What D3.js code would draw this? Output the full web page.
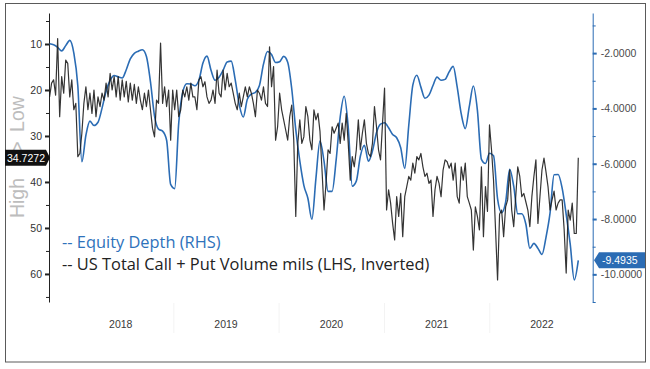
<!DOCTYPE html>
<html>
<head>
<meta charset="utf-8">
<script src="https://cdn.jsdelivr.net/npm/d3@7"></script>
<style>
  body { margin: 0; background: #ffffff; }
  svg { display: block; }
  .tickText { font-family: "Liberation Sans", Arial, sans-serif; font-size: 10.5px; }
</style>
</head>
<body>
<div id="chart"></div>
<script>
// US total call + put volume (mils), LHS inverted, one value per week
let volumeStart = "2017-10-27";
let volumeValues = [
  21.5, 18.5, 17.8, 21.1, 8.8, 25.8, 17.1, 20.7, 13.5, 14.2, 21.5, 17.8, 24.3, 22.9, 34.5, 33.8, 29.4,
  22.9, 19.3, 24.3, 20.7, 25.1, 20.0, 25.8, 21.5, 23.6, 20.7, 22.2, 18.5, 21.5, 16.4, 20.0, 17.1, 21.5,
  17.1, 22.2, 17.8, 21.5, 18.1, 22.6, 18.5, 22.2, 18.8, 22.9, 19.3, 22.2, 24.3, 20.7, 23.6, 20.0, 24.3,
  28.3, 30.2, 22.2, 22.9, 9.8, 22.9, 19.3, 23.6, 20.0, 30.9, 20.0, 24.3, 20.0, 25.8, 24.3,
  20.0, 21.5, 19.3, 22.2, 18.5, 21.5, 21.5, 24.3, 17.8, 17.1, 19.3, 18.2, 21.5, 22.9, 22.2, 20.0, 22.9, 15.7,
  20.7, 21.5, 15.7, 20.0, 16.4,
  19.3, 18.5, 20.7, 22.9, 24.3, 20.7, 23.6, 21.5, 19.3, 21.5, 19.3, 20.7, 22.9, 25.8, 20.0, 20.7, 22.2, 19.3, 22.9, 23.6,
  10.6, 19.3, 14.9, 30.9, 28.0, 20.7, 24.3, 26.5, 28.7, 30.9, 25.8, 23.3, 30.9, 47.5, 31.6, 26.5, 31.6, 30.2, 23.6, 25.8, 30.9, 33.0,
  24.3, 26.5, 25.1, 29.0, 37.4, 46.1, 40.3, 33.0, 33.8, 28.0, 29.4, 28.3, 27.2,
  31.6, 27.2, 30.9, 25.1, 31.6, 39.6, 34.5, 36.7, 33.0, 26.5, 33.0, 29.4, 26.5, 31.6, 33.8, 34.5, 31.6, 23.6, 28.0, 33.0, 35.2, 27.2, 19.6,
  46.1, 41.7, 44.6, 49.0, 52.6, 43.2, 47.5, 42.5, 51.9, 43.2, 41.0, 38.8, 39.6, 35.9, 38.1, 34.5, 35.2, 33.8, 36.7, 38.8, 38.1, 40.3,
  39.6, 47.5, 41.7, 38.8, 40.3, 43.2, 37.4, 35.2, 35.6, 37.0,
  35.9, 39.6, 35.9, 43.2, 44.6, 36.7, 39.6, 35.9, 43.2, 44.6, 46.1, 54.8, 45.4, 47.5, 50.4, 36.7, 51.9, 41.0, 46.4, 27.6, 33.0, 39.6, 50.4, 61.3,
  47.0, 46.1, 51.9, 45.4, 43.9, 37.4, 46.1, 49.7, 43.2, 36.7, 38.8, 43.2, 42.5, 44.3, 46.1, 49.7, 43.2, 38.8, 35.2, 49.0,
  43.2, 37.4, 34.8, 37.8, 41.0, 46.1, 43.9, 42.0, 46.1, 44.6, 43.9, 43.9, 50.4, 59.8, 46.1, 48.3, 44.6, 51.2, 51.2, 34.7272
];

// equity depth, RHS, one value every two weeks
let depthStart = "2017-10-27";
let depthValues = [
  -1.66, -1.70, -1.79, -1.92, -1.73, -1.54, -1.99, -3.19, -5.93, -4.97,
  -4.46, -4.62, -4.50, -3.99, -3.38, -2.99, -2.81, -2.86, -2.90, -2.60,
  -2.21, -2.01, -1.93, -1.88, -2.12, -3.04, -4.27, -4.75, -4.82, -5.15,
  -6.75, -6.90, -4.53, -3.41, -3.11, -3.12, -3.18, -2.98, -2.36, -2.11,
  -2.62, -2.98, -2.87, -2.62, -2.32, -2.29, -2.97, -3.87, -4.31, -3.67,
  -3.48, -3.42, -3.17, -2.40, -1.94, -2.05, -2.34, -2.31, -2.12, -2.33,
  -3.29, -4.77, -5.90, -6.78, -7.25, -8.01, -6.52, -5.18, -5.91, -7.00,
  -7.00, -5.87, -4.32, -3.56, -4.68, -6.81, -6.63, -5.73, -5.33, -5.91,
  -5.54, -4.88, -4.57, -4.52, -4.70, -4.94, -5.06, -5.42, -6.17, -4.61,
  -3.16, -2.80, -3.23, -3.63, -3.52, -3.17, -2.87, -2.98, -2.95, -2.68,
  -2.48, -3.23, -4.20, -4.73, -3.93, -3.19, -4.06, -5.84, -5.99, -5.62,
  -5.71, -7.27, -7.77, -7.39, -6.20, -6.81, -7.81, -7.81, -8.18, -9.06,
  -8.88, -9.06, -9.28, -8.66, -7.79, -6.40, -6.39, -6.88, -7.83, -8.91,
  -10.20, -9.4935
];

let yearLabels = ["2018", "2019", "2020", "2021", "2022"];
let leftTicks = [10, 20, 30, 40, 50, 60];
let leftMinorTicks = [5, 15, 25, 35, 45, 55, 65];
let rightTicks = [-2, -4, -6, -8, -10];
let rightMinorTicks = [-1, -3, -5, -7, -9, -11];
let legendLabels = [
  "-- Equity Depth (RHS)",
  "-- US Total Call + Put Volume mils (LHS, Inverted)",
];

let blue = "#2b6cb4";
let black = "#1e1e1e";

// size of the picture and of the plot area
let width = 650, height = 369;
let plot = { left: 49, right: 592.7, top: 13, bottom: 302 };
let svg, x, yLeft, yRight;

function init() {
  svg = d3
    .select("#chart")
    .append("svg")
    .attr("width", width)
    .attr("height", height);

  let parse = d3.timeParse("%Y-%m-%d");
  let volume = volumeValues.map(function (v, i) {
    return { date: d3.timeDay.offset(parse(volumeStart), 7 * i), value: v };
  });
  let depth = depthValues.map(function (v, i) {
    return { date: d3.timeDay.offset(parse(depthStart), 14 * i), value: v };
  });

  x = d3
    .scaleTime()
    .domain([new Date(2017, 9, 25), new Date(2022, 11, 24)])
    .range([plot.left, plot.right]);
  // left axis is inverted: small volumes on top
  yLeft = d3.scaleLinear().domain([3.26, 66.1]).range([plot.top, plot.bottom]);
  yRight = d3.scaleLinear().domain([-0.55, -11.0]).range([plot.top, plot.bottom]);

  renderFrame();
  renderAxes();
  renderLines(volume, depth);
  renderLegend();
  renderTags(volume, depth);
}

function renderFrame() {
  svg
    .append("rect")
    .attr("x", 5.5)
    .attr("y", 3.5)
    .attr("width", 640)
    .attr("height", 358.5)
    .attr("fill", "none")
    .attr("stroke", "#5a5a5a")
    .attr("stroke-width", 1);

  // faint separators between the years
  svg
    .append("g")
    .selectAll("line")
    .data(yearLabels.slice(1))
    .enter()
    .append("line")
    .attr("x1", function (d) { return x(new Date(+d, 0, 1)); })
    .attr("x2", function (d) { return x(new Date(+d, 0, 1)); })
    .attr("y1", 303)
    .attr("y2", 333)
    .attr("stroke", "#f3f3f3");

  svg
    .append("g")
    .selectAll("text")
    .data(yearLabels)
    .enter()
    .append("text")
    .attr("class", "tickText")
    .attr("x", function (d) { return x(new Date(+d, 6, 1)); })
    .attr("y", 328)
    .attr("text-anchor", "middle")
    .attr("fill", "#3a3a3a")
    .text(function (d) { return d; });

  // "High > Low" hint for the inverted left axis
  let hint = [
    { text: "Low", y: 114 },
    { text: ">", y: 147 },
    { text: "High", y: 198 },
  ];
  svg
    .append("g")
    .selectAll("text")
    .data(hint)
    .enter()
    .append("text")
    .attr("transform", function (d) { return "translate(24," + d.y + ") rotate(-90)"; })
    .attr("text-anchor", "middle")
    .attr("font-family", "Liberation Sans, Arial, sans-serif")
    .attr("font-size", "19.5px")
    .attr("fill", "#bdbdbd")
    .text(function (d) { return d.text; });
}

function renderAxes() {
  // left axis
  let left = svg.append("g").attr("transform", "translate(" + plot.left + ",0)");
  left
    .call(d3.axisLeft(yLeft).tickValues(leftTicks).tickSize(4).tickSizeOuter(0))
    .call(function (g) {
      g.select(".domain").attr("stroke", "#222");
      g.selectAll(".tick line").attr("stroke", "#222").attr("stroke-width", 2);
      g.selectAll(".tick text")
        .attr("class", "tickText")
        .attr("fill", "#333")
        .attr("x", -7);
    });
  left
    .append("g")
    .call(d3.axisLeft(yLeft).tickValues(leftMinorTicks).tickSize(3).tickSizeOuter(0).tickFormat(""))
    .call(function (g) {
      g.select(".domain").remove();
      g.selectAll(".tick line").attr("stroke", "#222");
    });

  // right axis
  let right = svg.append("g").attr("transform", "translate(" + plot.right + ",0)");
  right
    .call(
      d3.axisRight(yRight)
        .tickValues(rightTicks)
        .tickSize(4)
        .tickSizeOuter(0)
        .tickFormat(function (d) { return d.toFixed(4); })
    )
    .call(function (g) {
      g.select(".domain").attr("stroke", blue);
      g.selectAll(".tick line").attr("stroke", blue).attr("stroke-width", 2);
      g.selectAll(".tick text")
        .attr("class", "tickText")
        .attr("fill", "#4a4a4a")
        .attr("x", 8);
    });
  right
    .append("g")
    .call(d3.axisRight(yRight).tickValues(rightMinorTicks).tickSize(3).tickSizeOuter(0).tickFormat(""))
    .call(function (g) {
      g.select(".domain").remove();
      g.selectAll(".tick line").attr("stroke", blue);
    });
}

function renderLines(volume, depth) {
  let depthLine = d3
    .line()
    .x(function (d) { return x(d.date); })
    .y(function (d) { return yRight(d.value); })
    .curve(d3.curveMonotoneX);
  let volumeLine = d3
    .line()
    .x(function (d) { return x(d.date); })
    .y(function (d) { return yLeft(d.value); });

  svg
    .append("path")
    .datum(depth)
    .attr("d", depthLine)
    .attr("fill", "none")
    .attr("stroke", blue)
    .attr("stroke-width", 1.6)
    .attr("stroke-linejoin", "round");

  svg
    .append("path")
    .datum(volume)
    .attr("d", volumeLine)
    .attr("fill", "none")
    .attr("stroke", black)
    .attr("stroke-width", 1.2)
    .attr("stroke-opacity", 0.9)
    .attr("stroke-linejoin", "round");
}

function renderLegend() {
  svg
    .append("g")
    .selectAll("text")
    .data(legendLabels)
    .enter()
    .append("text")
    .attr("x", 62)
    .attr("y", function (d, i) { return 247.5 + i * 22.6; })
    .attr("font-family", "Open Sans, sans-serif")
    .attr("font-size", "16.4px")
    .attr("fill", function (d, i) { return i === 0 ? "#2e72bb" : "#222"; })
    .text(function (d) { return d; });
}

// value tags at the end of each series
function renderTags(volume, depth) {
  let lastVolume = volume[volume.length - 1].value;
  let lastDepth = depth[depth.length - 1].value;

  let yl = yLeft(lastVolume);
  svg
    .append("path")
    .attr("d", "M5," + (yl - 8) + "H46L50," + yl + "L46," + (yl + 8) + "H5Z")
    .attr("fill", "#111");
  svg
    .append("text")
    .attr("class", "tickText")
    .attr("x", 26)
    .attr("y", yl + 3.8)
    .attr("text-anchor", "middle")
    .attr("fill", "#fff")
    .text(lastVolume.toFixed(4));

  let yr = yRight(lastDepth);
  svg
    .append("path")
    .attr("d", "M594," + yr + "L599," + (yr - 8) + "H645V" + (yr + 8) + "H599Z")
    .attr("fill", blue);
  svg
    .append("text")
    .attr("class", "tickText")
    .attr("x", 602)
    .attr("y", yr + 3.8)
    .attr("fill", "#fff")
    .text(lastDepth.toFixed(4));
}

init();
</script>
</body>
</html>
